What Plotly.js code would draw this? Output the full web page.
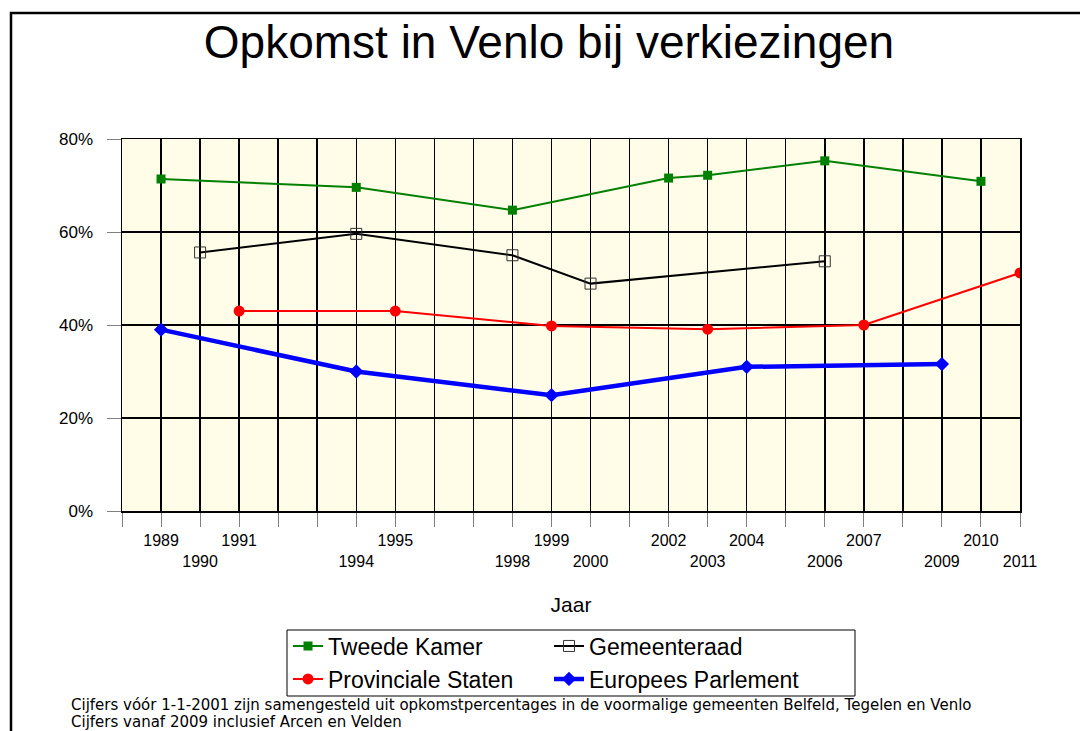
<!DOCTYPE html>
<html>
<head>
<meta charset="utf-8">
<script src="https://cdn.plot.ly/plotly-3.0.1.min.js"></script>
<style>html,body{margin:0;padding:0;background:#fff;}#chart{width:1080px;height:731px;}</style>
</head>
<body>
<div id="chart"></div>
<script>
// ---- Data (turnout in %) ----
var tkYears = [1989, 1994, 1998, 2002, 2003, 2006, 2010];
var tkValues = [71.4, 69.6, 64.7, 71.6, 72.2, 75.3, 70.9];

var grYears = [1990, 1994, 1998, 2000, 2006];
var grValues = [55.6, 59.6, 55.0, 48.9, 53.7];

var psYears = [1991, 1995, 1999, 2003, 2007, 2011];
var psValues = [43.0, 43.0, 39.8, 39.1, 40.0, 51.2];

var epYears = [1989, 1994, 1999, 2004, 2009];
var epValues = [39.0, 30.0, 24.9, 31.0, 31.6];

// tick labels (two staggered rows)
var xTopLabels = [1989, 1991, 1995, 1999, 2002, 2004, 2007, 2010];
var xBottomLabels = [1990, 1994, 1998, 2000, 2003, 2006, 2009, 2011];
var xTickYears = [];
for (var yr = 1988; yr <= 2011; yr++) xTickYears.push(yr);
var yTickVals = [0, 20, 40, 60, 80];
var yTickText = ['0%', '20%', '40%', '60%', '80%'];

var seriesNames = ['Tweede Kamer', 'Gemeenteraad', 'Provinciale Staten', 'Europees Parlement'];
var footnoteLines = [
  'Cijfers vóór 1-1-2001 zijn samengesteld uit opkomstpercentages in de voormalige gemeenten Belfeld, Tegelen en Venlo',
  'Cijfers vanaf 2009 inclusief Arcen en Velden'
];

var xTickText = xTickYears.map(function (v) {
  if (xTopLabels.indexOf(v) >= 0) return String(v);
  if (xBottomLabels.indexOf(v) >= 0) return '<br>' + v;
  return '';
});

var FONT = 'Liberation Sans, Arial, sans-serif';
var NOTE_FONT = 'DejaVu Sans, Verdana, sans-serif';

var traces = [
  {x: tkYears, y: tkValues, name: seriesNames[0], type: 'scatter', mode: 'lines+markers',
   line: {color: '#008000', width: 2}, marker: {symbol: 'square', size: 9, color: '#008000'},
   legend: 'legend'},
  {x: grYears, y: grValues, name: seriesNames[1], type: 'scatter', mode: 'lines+markers',
   line: {color: '#000000', width: 2}, marker: {symbol: 'square-open', size: 11, color: '#333333', line: {width: 1}},
   legend: 'legend'},
  {x: psYears, y: psValues, name: seriesNames[2], type: 'scatter', mode: 'lines+markers',
   line: {color: '#FF0000', width: 2}, marker: {symbol: 'circle', size: 11, color: '#FF0000'},
   legend: 'legend2'},
  {x: epYears, y: epValues, name: seriesNames[3], type: 'scatter', mode: 'lines+markers',
   line: {color: '#0000FF', width: 4.5}, marker: {symbol: 'diamond', size: 11, color: '#0000FF'},
   legend: 'legend2'}
];

function px2x(p) { return (p - 122) / 898; }
function py2y(p) { return (511 - p) / 372; }

var layout = {
  width: 1080, height: 731,
  paper_bgcolor: '#ffffff',
  plot_bgcolor: '#FFFDE8',
  margin: {l: 122, r: 60, t: 139, b: 220, autoexpand: false},
  font: {family: FONT, color: '#000000'},
  title: {text: 'Opkomst in Venlo bij verkiezingen', font: {family: FONT, size: 46, color: '#000'},
          xref: 'container', x: 549 / 1080, xanchor: 'center',
          yref: 'container', y: 1 - 42 / 731, yanchor: 'middle'},
  xaxis: {
    range: [1988, 2011], tickmode: 'array', tickvals: xTickYears, ticktext: xTickText,
    showgrid: true, gridcolor: '#000000', gridwidth: 1.5,
    showline: true, linecolor: '#000000', linewidth: 1.5, mirror: true,
    ticks: 'outside', ticklen: 14, tickcolor: '#808080', tickwidth: 1,
    tickfont: {family: FONT, size: 16, color: '#000'},
    zeroline: false, automargin: false,
    title: {text: 'Jaar', font: {family: FONT, size: 21, color: '#000'}, standoff: 29}
  },
  yaxis: {
    range: [0, 80], tickmode: 'array', tickvals: yTickVals, ticktext: yTickText,
    showgrid: true, gridcolor: '#000000', gridwidth: 1.5,
    showline: true, linecolor: '#000000', linewidth: 1.5, mirror: true,
    ticks: 'outside', ticklen: 14, tickcolor: '#808080', tickwidth: 1,
    tickfont: {family: FONT, size: 17, color: '#000'},
    ticklabelstandoff: 10,
    zeroline: false, automargin: false
  },
  showlegend: true,
  legend: {orientation: 'h', x: px2x(288), xanchor: 'left', y: py2y(646), yanchor: 'middle',
           bgcolor: 'rgba(0,0,0,0)', borderwidth: 0, entrywidth: 216, entrywidthmode: 'pixels',
           font: {family: FONT, size: 23, color: '#000'}, itemclick: false},
  legend2: {orientation: 'h', x: px2x(288), xanchor: 'left', y: py2y(679), yanchor: 'middle',
           bgcolor: 'rgba(0,0,0,0)', borderwidth: 0, entrywidth: 216, entrywidthmode: 'pixels',
           font: {family: FONT, size: 23, color: '#000'}, itemclick: false},
  shapes: [
    // legend box
    {type: 'rect', xref: 'paper', yref: 'paper', x0: px2x(287), x1: px2x(855), y0: py2y(696), y1: py2y(630),
     line: {color: '#000', width: 1}, fillcolor: 'rgba(0,0,0,0)', layer: 'above'},
    // outer frame
    {type: 'rect', xref: 'paper', yref: 'paper', x0: px2x(11), x1: px2x(1120), y0: py2y(800), y1: py2y(13),
     line: {color: '#000', width: 2.5}, fillcolor: 'rgba(0,0,0,0)', layer: 'below'}
  ],
  annotations: [
    {text: footnoteLines[0], align: 'left',
     xref: 'paper', yref: 'paper', x: px2x(70), y: py2y(705), xanchor: 'left', yanchor: 'middle',
     showarrow: false, borderpad: 0, font: {family: NOTE_FONT, size: 15, color: '#000'}},
    {text: footnoteLines[1], align: 'left',
     xref: 'paper', yref: 'paper', x: px2x(70), y: py2y(722), xanchor: 'left', yanchor: 'middle',
     showarrow: false, borderpad: 0, font: {family: NOTE_FONT, size: 15, color: '#000'}}
  ]
};

Plotly.newPlot('chart', traces, layout, {displayModeBar: false, staticPlot: true});
</script>
</body>
</html>
